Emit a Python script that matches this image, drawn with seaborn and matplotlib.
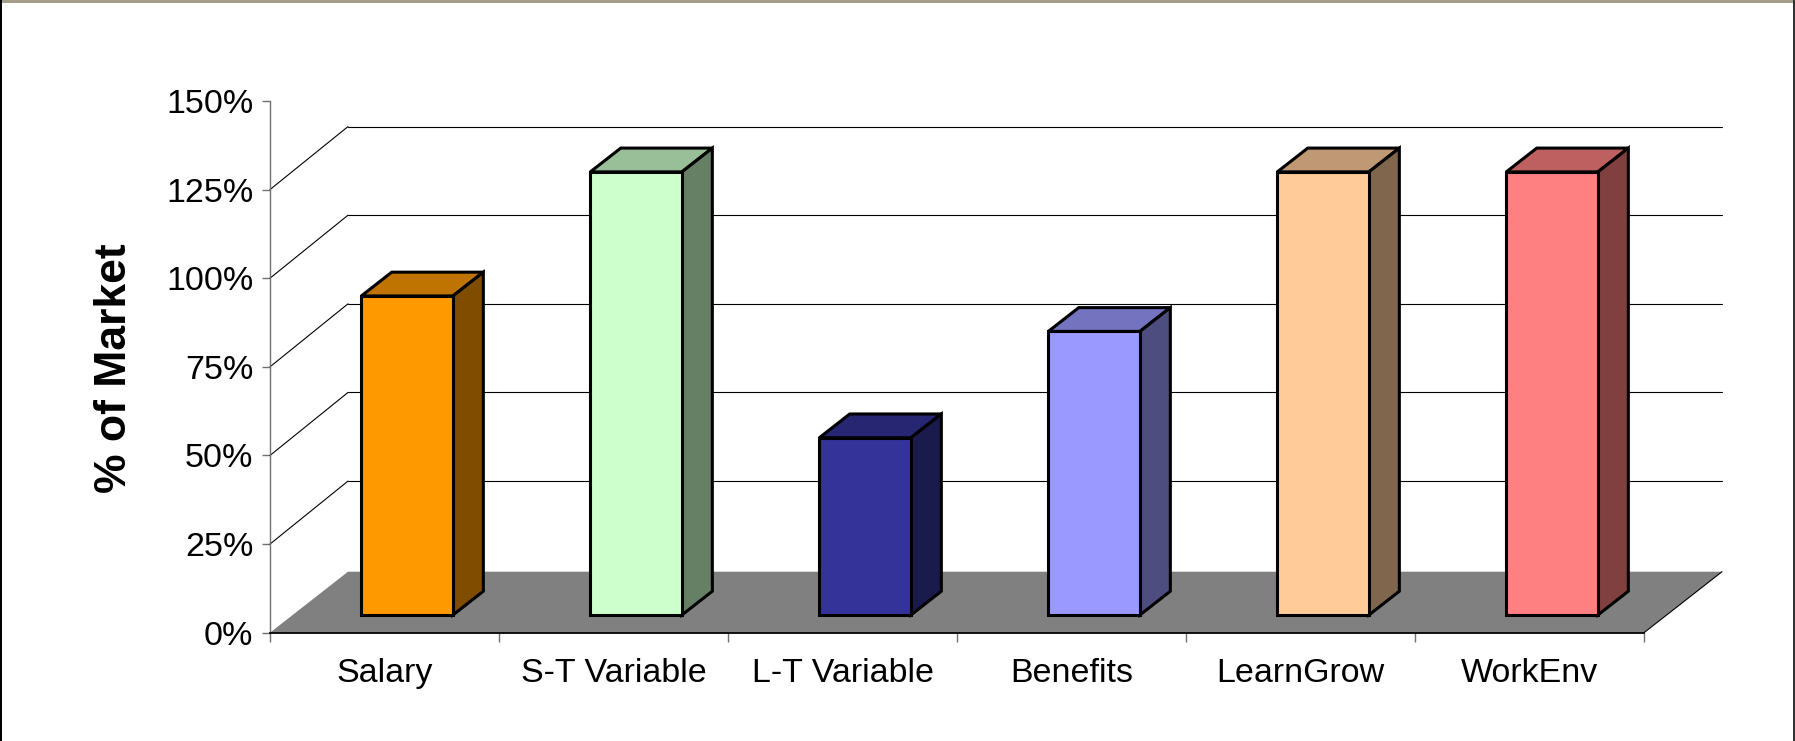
import numpy as np
import matplotlib
matplotlib.use("Agg")
import matplotlib.pyplot as plt
from matplotlib.patches import Polygon, Rectangle
import seaborn as sns
import pandas as pd

# ---------------- data ----------------
categories = ["Salary", "S-T Variable", "L-T Variable", "Benefits", "LearnGrow", "WorkEnv"]
values = [90, 125, 50, 80, 125, 125]
front_colors = ["#FF9900", "#CCFFCC", "#333399", "#9999FF", "#FFCC99", "#FF8080"]
top_colors = ["#BF7300", "#99BF99", "#262673", "#7373BF", "#BF9973", "#BF6060"]
side_colors = ["#804C00", "#668066", "#1A1A4D", "#4D4D80", "#80664D", "#804040"]
y_ticks = [0, 25, 50, 75, 100, 125, 150]
y_tick_labels = ["0%", "25%", "50%", "75%", "100%", "125%", "150%"]
y_label = "% of Market"

# ---------------- style ----------------
sns.set_style("white")
plt.rcParams['font.family'] = ['Liberation Sans', 'DejaVu Sans']

W, H = 1795, 741
fig = plt.figure(figsize=(W / 100, H / 100), dpi=100, facecolor="white")
ax = fig.add_axes([0, 0, 1, 1])

# geometry of the pseudo-3D scene (pixels -> data units)
X0_PX = 270.0      # pixel x of the left category boundary
CAT_PX = 229.0     # pixels per category
Y0_PX = 632.7      # pixel y (from top) of 0 %
UNIT_PX = 3.545    # pixels per 1 %
DX = 78.0 / CAT_PX      # floor depth in x data units
DY = 61.0 / UNIT_PX     # floor depth in y data units
DYG = 63.0 / UNIT_PX    # back-wall gridline offset
F0, T = 0.29, 0.39      # bar front depth fraction, bar thickness fraction
BAR_W = 0.4
LW = 2.2
n = len(categories)

df = pd.DataFrame({"category": categories, "value": values})
sns.barplot(data=df, x="category", y="value", hue="category", palette=front_colors,
            width=BAR_W, saturation=1, errorbar=None, legend=False,
            edgecolor="black", linewidth=LW, ax=ax, zorder=4)
bars = list(ax.patches)

# floor
ax.add_patch(Polygon([(-0.5, 0), (n - 0.5, 0), (n - 0.5 + DX, DY), (-0.5 + DX, DY)],
                     closed=True, facecolor="#808080", edgecolor="none", zorder=2))
ax.plot([n - 0.5, n - 0.5 + DX], [0, DY], color="black", lw=0.8, zorder=2.5)

# back-wall gridlines and side-wall diagonals
for v in y_ticks[1:-1]:
    ax.plot([-0.5 + DX, n - 0.5 + DX], [v + DYG, v + DYG], color="black", lw=0.8, zorder=1)
    ax.plot([-0.5, -0.5 + DX], [v, v + DYG], color="black", lw=0.8, zorder=1)

# move bars into depth and add top/side faces
for p in bars:
    idx = int(round(p.get_x() + p.get_width() / 2))
    p.set_x(p.get_x() + F0 * DX)
    p.set_y(F0 * DY)
    x0 = p.get_x()
    x1 = x0 + p.get_width()
    y0 = p.get_y()
    y1 = y0 + p.get_height()
    ddx, ddy = T * DX, T * DY
    top = Polygon([(x0, y1), (x1, y1), (x1 + ddx, y1 + ddy), (x0 + ddx, y1 + ddy)],
                  closed=True, facecolor=top_colors[idx], edgecolor="black",
                  linewidth=LW, joinstyle="miter", zorder=3)
    side = Polygon([(x1, y0), (x1 + ddx, y0 + ddy), (x1 + ddx, y1 + ddy), (x1, y1)],
                   closed=True, facecolor=side_colors[idx], edgecolor="black",
                   linewidth=LW, joinstyle="miter", zorder=3)
    ax.add_patch(top)
    ax.add_patch(side)
    p.set_joinstyle("miter")

# limits so that the data map onto the reference pixels
ax.set_xlim(-0.5 - X0_PX / CAT_PX, -0.5 + (W - X0_PX) / CAT_PX)
ax.set_ylim(-(H - Y0_PX) / UNIT_PX, Y0_PX / UNIT_PX)

# spines
for s in ["top", "right"]:
    ax.spines[s].set_visible(False)
ax.spines["left"].set_position(("data", -0.5))
ax.spines["left"].set_bounds(0, 150)
ax.spines["left"].set_color("#707070")
ax.spines["left"].set_linewidth(1.0)
ax.spines["bottom"].set_position(("data", 0))
ax.spines["bottom"].set_bounds(-0.5, n - 0.5)
ax.spines["bottom"].set_color("black")
ax.spines["bottom"].set_linewidth(1.3)
ax.spines["left"].set_zorder(5)
ax.spines["bottom"].set_zorder(5)

# y ticks
ax.set_yticks(y_ticks, y_tick_labels)
ax.tick_params(axis="y", left=True, length=6, width=1, color="#707070",
               direction="out", pad=6, labelsize=24.5, labelcolor="black")

# x ticks: boundaries as major ticks, labels as minor ticks
ax.set_xticks(np.arange(-0.5, n, 1.0))
ax.set_xticklabels([])
ax.set_xticks(np.arange(n), categories, minor=True)
ax.tick_params(axis="x", which="major", bottom=True, length=6.5, width=1,
               color="#707070", direction="out")
ax.tick_params(axis="x", which="minor", bottom=True, length=0, pad=18.5,
               labelsize=24.5, labelcolor="black")
ax.set_xlabel("")

ax.set_ylabel(y_label, fontsize=32, fontweight="bold", color="black")
ax.yaxis.set_label_coords(135 / W, 1 - 368.6 / H)

ax.set_facecolor("white")
ax.grid(False)

# outer frame
fig.add_artist(Rectangle((0, 1 - 3 / H), 1, 3 / H, transform=fig.transFigure,
                         facecolor="#A59E88", edgecolor="none", zorder=10))
fig.add_artist(Rectangle((0, 0), 1.5 / W, 1, transform=fig.transFigure,
                         facecolor="black", edgecolor="none", zorder=10))
fig.add_artist(Rectangle((1 - 2.5 / W, 0), 2.5 / W, 1, transform=fig.transFigure,
                         facecolor="#333333", edgecolor="none", zorder=10))

fig.savefig("out.png", dpi=100, facecolor="white")
